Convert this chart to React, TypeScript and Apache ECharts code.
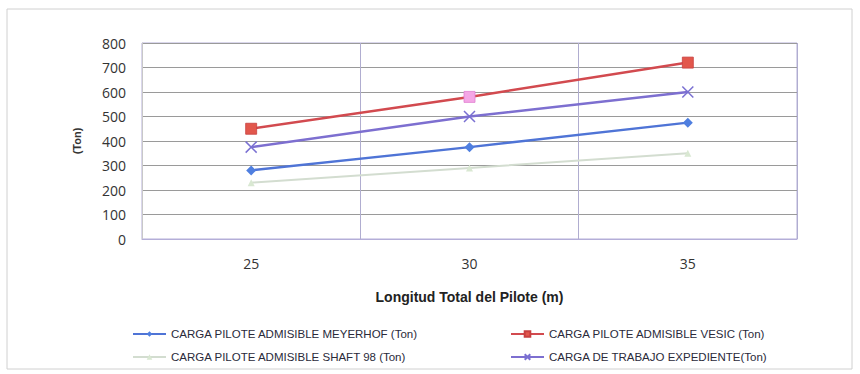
import React, { useEffect, useRef } from "react";
import * as echarts from "echarts";

const categories = ["25", "30", "35"];
const yTicks = { min: 0, max: 800, interval: 100 };

const meyerhof = [280, 375, 475];
const vesic = [450, 580, 720];
const shaft = [230, 290, 350];
const expediente = [375, 500, 600];

const NAMES = {
  meyerhof: "CARGA PILOTE ADMISIBLE MEYERHOF (Ton)",
  vesic: "CARGA PILOTE ADMISIBLE VESIC (Ton)",
  shaft: "CARGA PILOTE ADMISIBLE SHAFT 98 (Ton)",
  expediente: "CARGA DE TRABAJO EXPEDIENTE(Ton)",
};

const FONT = "'Liberation Sans Narrow', 'Liberation Sans', Arial, sans-serif";
const CROSS = "path://M0,0L10,10M10,0L0,10";

export default function App() {
  const ref = useRef<HTMLDivElement>(null);

  useEffect(() => {
    if (!ref.current) return;
    const chart = echarts.init(ref.current, undefined, { renderer: "svg" });

    const legendText = { fontFamily: FONT, fontSize: 11.5, color: "#2a2a3a" };

    chart.setOption({
      animation: false,
      backgroundColor: "#ffffff",
      graphic: [
        {
          type: "rect",
          shape: { x: 7, y: 9, width: 845, height: 360 },
          style: { fill: "none", stroke: "#d0d0d0", lineWidth: 1 },
          silent: true,
        },
      ],
      grid: {
        left: 142,
        top: 43,
        width: 655,
        height: 196,
        show: true,
        borderColor: "#b4aed8",
        borderWidth: 1,
        backgroundColor: "transparent",
      },
      xAxis: {
        type: "category",
        data: categories,
        boundaryGap: true,
        axisLine: { show: true, lineStyle: { color: "#b4aed8" } },
        axisTick: { show: false },
        splitLine: { show: true, lineStyle: { color: "#b0add0", width: 1 } },
        axisLabel: {
          margin: 17,
          fontFamily: "'Open Sans', sans-serif",
          fontSize: 14,
          color: "#333333",
        },
        name: "Longitud Total del Pilote (m)",
        nameLocation: "middle",
        nameGap: 51,
        nameTextStyle: {
          fontFamily: FONT,
          fontSize: 14,
          fontWeight: "bold",
          color: "#222222",
        },
      },
      yAxis: {
        type: "value",
        min: yTicks.min,
        max: yTicks.max,
        interval: yTicks.interval,
        axisLine: { show: true, lineStyle: { color: "#c8c8c8" } },
        axisTick: { show: false },
        splitLine: { show: true, lineStyle: { color: "#9a9a9a", width: 1 } },
        axisLabel: {
          margin: 16,
          fontFamily: "'Open Sans', sans-serif",
          fontSize: 14,
          color: "#333333",
        },
        name: "(Ton)",
        nameLocation: "middle",
        nameGap: 60,
        nameRotate: 90,
        nameTextStyle: {
          fontFamily: FONT,
          fontSize: 11,
          fontWeight: "bold",
          color: "#333333",
        },
      },
      legend: [
        {
          orient: "vertical",
          left: 127,
          top: 323,
          itemGap: 11,
          itemWidth: 33,
          itemHeight: 7,
          textStyle: legendText,
          data: [NAMES.meyerhof, NAMES.shaft],
        },
        {
          orient: "vertical",
          left: 505,
          top: 323,
          itemGap: 11,
          itemWidth: 33,
          itemHeight: 7,
          textStyle: legendText,
          data: [NAMES.vesic, NAMES.expediente],
        },
      ],
      series: [
        {
          name: NAMES.meyerhof,
          type: "line",
          data: meyerhof,
          symbol: "diamond",
          symbolSize: 10,
          lineStyle: { color: "#4f74d6", width: 2.5 },
          itemStyle: { color: "#4f7fe0" },
          z: 3,
        },
        {
          name: NAMES.vesic,
          type: "line",
          data: [
            vesic[0],
            { value: vesic[1], itemStyle: { color: "#f4a6e6", borderColor: "#e07fd0" } },
            vesic[2],
          ],
          symbol: "rect",
          symbolSize: 11,
          lineStyle: { color: "#d24a4f", width: 2.5 },
          itemStyle: { color: "#e2574c", borderColor: "#c84040", borderWidth: 0.8 },
          z: 4,
        },
        {
          name: NAMES.shaft,
          type: "line",
          data: shaft,
          symbol: "triangle",
          symbolSize: 7,
          lineStyle: { color: "#d3ddd0", width: 2 },
          itemStyle: { color: "#d9e8d2" },
          z: 2,
        },
        {
          name: NAMES.expediente,
          type: "line",
          data: expediente,
          symbol: CROSS,
          symbolSize: 11,
          lineStyle: { color: "#7d6fd0", width: 2.5 },
          itemStyle: { color: "#8078d6", borderColor: "#7a70d2", borderWidth: 1.5 },
          z: 3,
        },
      ],
    });

    return () => chart.dispose();
  }, []);

  return (
    <div
      ref={ref}
      style={{ position: "absolute", left: 0, top: 0, width: 860, height: 374 }}
    />
  );
}
